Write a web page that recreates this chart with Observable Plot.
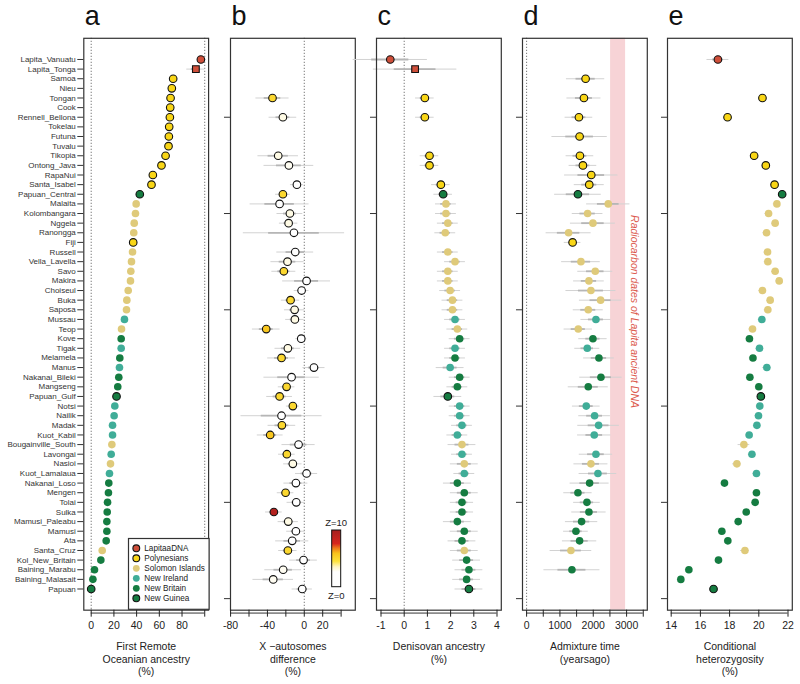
<!DOCTYPE html>
<html><head><meta charset="utf-8">
<script src="https://cdn.jsdelivr.net/npm/d3@7"></script>
<script src="https://cdn.jsdelivr.net/npm/@observablehq/plot@0.6"></script>
<style>
body{margin:0;background:#fff;font-family:"Liberation Sans",Arial,Helvetica,sans-serif;}
#wrap{position:relative;width:800px;height:684px;overflow:hidden;background:#fff;}
#wrap svg{position:absolute;top:0;}
</style></head><body><div id="wrap"></div>
<script>
// ---------- data ----------
const populations = ["Lapita_Vanuatu","Lapita_Tonga","Samoa","Nieu","Tongan","Cook","Rennell_Bellona","Tokelau","Futuna","Tuvalu",
"Tikopia","Ontong_Java","RapaNui","Santa_Isabel","Papuan_Central","Malaita","Kolombangara","Nggela","Ranongga","Fiji",
"Russell","Vella_Lavella","Savo","Makira","Choiseul","Buka","Saposa","Mussau","Teop","Kove",
"Tigak","Melamela","Manus","Nakanai_Bileki","Mangseng","Papuan_Gulf","Notsi","Nailik","Madak","Kuot_Kabil",
"Bougainville_South","Lavongai","Nasioi","Kuot_Lamalaua","Nakanai_Loso","Mengen","Tolai","Sulka","Mamusi_Paleabu","Mamusi",
"Ata","Santa_Cruz","Kol_New_Britain","Baining_Marabu","Baining_Malasait","Papuan"];
const groupCodes = ["L","L","P","P","P","P","P","P","P","P",
"P","P","P","P","NG","S","S","S","S","P",
"S","S","S","S","S","S","S","NI","S","NB",
"NI","NB","NI","NB","NB","NG","NI","NI","NI","NI",
"S","NI","S","NI","NB","NB","NB","NB","NB","NB",
"NB","S","NB","NB","NB","NG"];
const squarePops = ["Lapita_Tonga"];

const groupKeys = ["L","P","S","NI","NB","NG"];
const groupNames = ["LapitaaDNA","Polynesians","Solomon Islands","New Ireland","New Britain","New Guinea"];
const groupColors = ["#cf4f3a","#f9d616","#dfca7a","#40ad98","#157c41","#157c41"];
const borderedGroups = ["L","P","NG"];

// a: First Remote Oceanian ancestry (%)
const remote = [96.6,92.2,72.2,71.0,69.9,69.6,69.3,68.7,68.4,68.1,
65.5,61.9,54.3,53.1,42.8,39.6,39.0,37.9,37.5,37.0,
36.4,35.5,34.9,34.6,32.6,31.4,31.1,29.3,26.7,26.4,
26.4,25.2,24.9,24.3,23.4,22.3,20.8,20.2,18.8,18.8,
18.2,17.6,17.0,16.1,15.5,15.2,14.4,14.1,13.8,13.8,
13.2,9.7,8.5,2.9,1.5,0.0];
const remoteErr = [3, 8];

// b: X - autosomes difference (%)
const xDiff = [null,null,null,null,-34.5,null,-23.2,null,null,null,
-28.3,-16.7,null,-8.0,-23.2,-26.8,-15.6,-17.0,-11.2,null,
-9.8,-18.2,-22.2,2.5,-2.9,-14.9,-10.5,-10.2,-41.3,-3.3,
-17.8,-24.7,10.5,-13.8,-19.2,-26.8,-12.4,-24.7,-24.3,-37.0,
-6.2,-18.9,-12.4,2.5,-9.1,-20.3,-8.7,-33.0,-17.4,-9.1,
-13.1,-17.8,-0.8,-22.9,-33.7,-2.2];
const xDiffErr = [null,null,null,null,18,null,15,null,null,null,
22,27,null,7,8,32,14,10,55,null,
20,18,13,26,8,10,11,10,15,6,
14,15,12,30,9,14,7,44,15,14,
18,9,10,12,13,9,10,9,11,10,
18,10,15,20,22,11];
const xDiffZ = [null,null,null,null,5,null,3,null,null,null,
3,2.8,null,1,5,1,3,3,1,null,
1,3,5,0.5,1,5,3,3,5.7,1,
3,5,1,1,5,5,5,1,5,5.7,
1,5,3,0.5,1,5,1,9.3,3,1,
1,5,0.3,2.8,2.8,1];
const zStops = [0,2.6,3.5,4.5,5.9,6.8,7.6,10];
const zColors = ["#ffffff","#ffffff","#fff6c4","#fde23a","#f8c21a","#ee7a1a","#d8261d","#a51f1f"];

// c: Denisovan ancestry (%)
const deni = [-0.60,0.47,null,null,0.89,null,0.89,null,null,null,
1.09,1.09,null,1.58,1.68,1.80,1.80,1.88,1.77,null,
1.88,2.19,1.88,1.88,1.98,2.08,2.08,2.19,2.29,2.39,
2.19,2.19,1.98,2.39,2.29,1.88,2.39,2.39,2.49,2.29,
2.49,2.49,2.59,2.59,2.29,2.59,2.49,2.49,2.29,2.59,
2.49,2.59,2.69,2.79,2.69,2.79];
const deniErr = [1.6,1.8,null,null,0.4,null,0.4,null,null,null,
0.4,0.4,null,0.4,0.4,0.45,0.45,0.45,0.45,null,
0.45,0.45,0.45,0.45,0.45,0.45,0.45,0.45,0.45,0.45,
0.45,0.45,0.6,0.45,0.45,0.6,0.45,0.45,0.45,0.45,
0.6,0.45,0.6,0.45,0.6,0.6,0.5,0.5,0.6,0.6,
0.6,0.6,0.6,0.6,0.6,0.6];

// d: Admixture time (years ago)
const admix = [null,null,1770,null,1720,null,1570,null,1590,null,
1600,1690,1940,1880,1540,2450,1830,1990,1260,1380,
null,1630,2060,1870,1930,2220,1850,2080,1550,1990,
1820,2170,null,2230,1850,null,1790,2040,2160,2030,
null,2080,1930,2140,1890,1540,1810,1870,1650,1480,
1590,1330,null,1360,null,null];
const admixErr = [null,null,575,null,510,null,415,null,830,null,
415,415,800,450,700,650,460,675,675,250,
null,580,525,460,750,635,450,450,425,425,
375,460,null,635,600,null,415,475,625,500,
null,500,510,565,585,425,400,515,485,370,
515,625,null,840,null,null];
const lapitaDates = [2520, 2970];
const lapitaDatesLabel = "Radiocarbon dates of Lapita ancient DNA";

// e: Conditional heterozygosity (%)
const het = [17.2,null,null,null,20.25,null,17.86,null,null,null,
19.68,20.48,null,21.08,21.60,21.24,20.67,21.12,20.53,null,
20.60,20.62,21.12,21.40,20.25,20.78,20.62,20.21,19.57,19.36,
20.05,19.60,20.55,19.39,20.00,20.14,20.07,19.98,19.87,19.34,
18.98,19.53,18.50,19.84,17.65,19.84,19.75,19.14,18.59,17.47,
17.88,19.05,17.24,15.21,14.66,16.90];
const hetErr = [0.75,null,null,null,0.25,null,0.25,null,null,null,
0.25,0.25,null,0.25,0.25,0.25,0.25,0.25,0.25,null,
0.25,0.25,0.25,0.25,0.25,0.25,0.25,0.25,0.25,0.25,
0.25,0.25,0.3,0.25,0.25,0.25,0.25,0.25,0.25,0.25,
0.4,0.25,0.3,0.25,0.25,0.25,0.25,0.25,0.25,0.25,
0.25,0.3,0.25,0.25,0.25,0.25];

// ---------- layout ----------
const FONT = '"Liberation Sans", Arial, Helvetica, sans-serif';
const N = populations.length;
const H = 684, MT = 37.8, MB = 684 - 609.7;
const FRAME_W = 124.8;
const Y_DOMAIN = [-1.2, 58.2];
const AXIS_LINE_V = -1.5;
const rows = populations.map((name, i) => ({name, i, v: N - i, group: groupCodes[i], square: squarePops.includes(name)}));

const panels = [
  {key:"a", left:83.3, domain:[-6.52,103.4], values:remote, err:remoteErr, ticks:[0,20,40,60,80,100], labels:[0,20,40,60,80],
   dotted:[0,100], title:"First Remote\nOceanian ancestry\n(%)", rowLabels:true},
  {key:"b", left:229.9, domain:[-80.1,55.4], values:xDiff, err:xDiffErr, z:xDiffZ, ticks:[-80,-60,-40,-20,0,20,40], labels:[-80,-40,0,20],
   dotted:[0], title:"X \u2212autosomes\ndifference\n(%)"},
  {key:"c", left:375.6, domain:[-1.194,4.185], values:deni, err:deniErr, ticks:[-1,0,1,2,3,4], labels:[-1,0,1,2,3,4],
   dotted:[0], title:"Denisovan ancestry\n(%)"},
  {key:"d", left:521.6, domain:[-123,3621], values:admix, err:admixErr, ticks:[0,500,1000,1500,2000,2500,3000,3500], labels:[0,1000,2000,3000],
   dotted:[0], band:lapitaDates, title:"Admixture time\n(yearsago)"},
  {key:"e", left:667.3, domain:[13.747,22.294], values:het, err:hetErr, ticks:[14,16,18,20,22], labels:[14,16,18,20,22],
   dotted:[], title:"Conditional\nheterozygosity\n(%)"}
];

const wrap = document.getElementById("wrap");
const R = 3.8;

panels.forEach(cfg => {
  const data = rows.map(r => ({...r, x: cfg.values[r.i], e: cfg.err ? (cfg.err[r.i] ?? null) : null, z: cfg.z ? cfg.z[r.i] : null}))
                   .filter(d => d.x != null);
  const errs = data.filter(d => d.e != null);
  const ml = cfg.rowLabels ? cfg.left : 25;
  const mr = 8;
  const W = ml + FRAME_W + mr;
  const marks = [];
  if (cfg.band) marks.push(Plot.rect([cfg.band], {x1: d => d[0], x2: d => d[1], fill: "#f7d3d6"}));
  if (cfg.dotted.length) marks.push(Plot.ruleX(cfg.dotted, {stroke: "#555", strokeWidth: 1, strokeDasharray: "1,2"}));
  marks.push(Plot.ruleY(errs, {y: "v", x1: d => d.x - d.e, x2: d => d.x + d.e, stroke: "#d2d2d2", strokeWidth: 1}));
  marks.push(Plot.ruleY(errs, {y: "v", x1: d => d.x - d.e / 2, x2: d => d.x + d.e / 2, stroke: "#b6b6b6", strokeWidth: 1.8}));
  const circ = data.filter(d => !d.square), sq = data.filter(d => d.square);
  if (cfg.z) {
    marks.push(Plot.dot(circ, {x: "x", y: "v", r: R, fill: "z", stroke: "#111", strokeWidth: 1.1}));
  } else {
    marks.push(Plot.dot(circ.filter(d => !borderedGroups.includes(d.group)), {x: "x", y: "v", r: R, fill: "group"}));
    marks.push(Plot.dot(circ.filter(d => borderedGroups.includes(d.group)), {x: "x", y: "v", r: R, fill: "group", stroke: "#111", strokeWidth: 1.1}));
    marks.push(Plot.dot(sq, {x: "x", y: "v", r: R, symbol: "square", fill: "group", stroke: "#111", strokeWidth: 1.1}));
  }
  if (cfg.band) marks.push(Plot.text([lapitaDatesLabel], {text: d => d, frameAnchor: "right", textAnchor: "middle", lineAnchor: "middle",
      rotate: 90, dx: -13, dy: -12.7, fill: "#dc5a4e", fontStyle: "italic", fontSize: 10.5}));
  marks.push(Plot.frame({stroke: "#333", strokeWidth: 1.2}));
  // x axis
  marks.push(Plot.ruleY([AXIS_LINE_V], {x1: () => cfg.ticks[0], x2: () => cfg.ticks[cfg.ticks.length - 1], stroke: "#333", strokeWidth: 1}));
  marks.push(Plot.axisX(cfg.ticks, {tickSize: 7, tickPadding: 4, fontSize: 10.5, color: "#222", label: null,
      tickFormat: d => cfg.labels.includes(d) ? String(d) : ""}));
  // y axis
  if (cfg.rowLabels) {
    marks.push(Plot.axisY(rows.map(r => r.v), {tickSize: 6, tickPadding: 2, fontSize: 8, color: "#333", label: null,
        tickFormat: v => populations[N - v]}));
  } else {
    marks.push(Plot.axisY([0,10,20,30,40,50], {tickSize: 6, color: "#333", label: null, tickFormat: () => ""}));
  }
  // axis title and panel letter
  marks.push(Plot.text([cfg.title], {text: d => d, frameAnchor: "bottom", textAnchor: "middle", lineAnchor: "top", dy: 31,
      fontSize: 10.5, lineHeight: 1.2, fill: "#222"}));
  marks.push(Plot.text([cfg.key], {text: d => d, frameAnchor: "top-left", textAnchor: "start", lineAnchor: "bottom", dx: 1, dy: -13,
      fontSize: 27, fill: "#111"}));

  const color = cfg.z
    ? {type: "linear", domain: zStops, range: zColors, clamp: true}
    : {domain: groupKeys, range: groupColors};
  const svg = Plot.plot({
    width: W, height: H, marginLeft: ml, marginRight: mr, marginTop: MT, marginBottom: MB,
    x: {domain: cfg.domain}, y: {domain: Y_DOMAIN}, color,
    style: {background: "transparent", overflow: "visible", fontFamily: FONT, color: "#222"},
    marks
  });
  svg.style.position = "absolute";
  svg.style.left = (cfg.left - ml) + "px";
  svg.style.top = "0px";
  svg.style.maxWidth = "none";
  wrap.appendChild(svg);
});

// ---------- group legend (panel a) ----------
const leg = d3.select(wrap).append("svg").attr("width", 82).attr("height", 72)
  .style("position", "absolute").style("left", "127.8px").style("top", "538.4px").style("overflow", "visible");
leg.append("rect").attr("x", 0.5).attr("y", 0.5).attr("width", 80.6).attr("height", 70.8).attr("fill", "#fff").attr("stroke", "#333").attr("stroke-width", 1.2);
groupKeys.forEach((g, k) => {
  const cy = 10.3 + 10 * k;
  leg.append("circle").attr("cx", 8.3).attr("cy", cy).attr("r", 3.4).attr("fill", groupColors[k])
    .attr("stroke", borderedGroups.includes(g) ? "#111" : "none").attr("stroke-width", 1.1);
  leg.append("text").attr("x", 16.3).attr("y", cy).attr("dy", "0.35em").attr("font-size", 8.2)
    .attr("font-family", FONT).attr("fill", "#222").text(groupNames[k]);
});

// ---------- Z colour legend (panel b) ----------
const zl = d3.select(wrap).append("svg").attr("width", 44).attr("height", 95)
  .style("position", "absolute").style("left", "314px").style("top", "510px").style("overflow", "visible");
const grad = zl.append("defs").append("linearGradient").attr("id", "zgrad").attr("x1", 0).attr("x2", 0).attr("y1", 1).attr("y2", 0);
zStops.forEach((s, k) => grad.append("stop").attr("offset", s / 10).attr("stop-color", zColors[k]));
zl.append("rect").attr("x", 17.7).attr("y", 20).attr("width", 9).attr("height", 56.7).attr("fill", "url(#zgrad)").attr("stroke", "#111").attr("stroke-width", 1);
zl.append("text").attr("x", 22.2).attr("y", 15.5).attr("text-anchor", "middle").attr("font-size", 9.5).attr("font-family", FONT).attr("fill", "#222").text("Z=10");
zl.append("text").attr("x", 22.2).attr("y", 88.5).attr("text-anchor", "middle").attr("font-size", 9.5).attr("font-family", FONT).attr("fill", "#222").text("Z=0");
</script>
</body></html>
